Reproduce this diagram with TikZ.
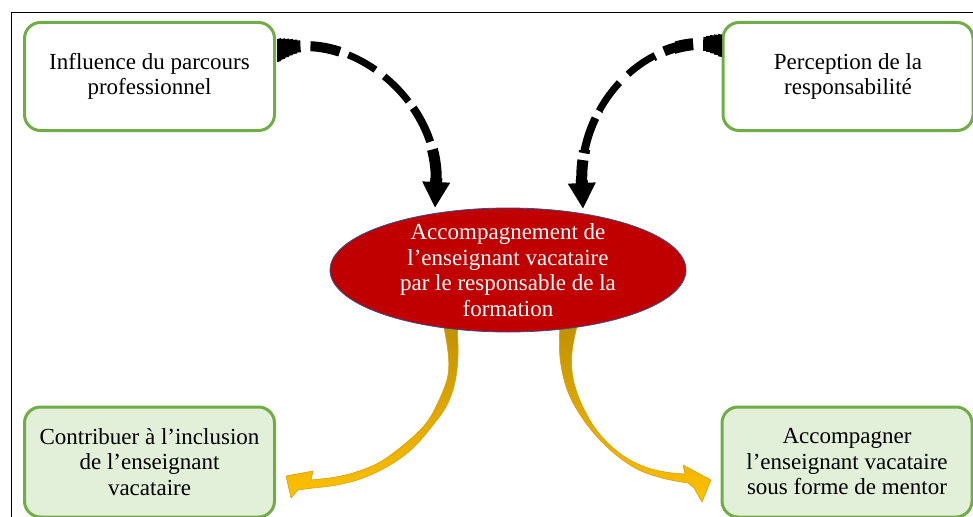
\documentclass[tikz,border=0pt]{standalone}
\usepackage{fontspec}
\setmainfont{Liberation Serif}
\usetikzlibrary{shapes.geometric,arrows.meta}
\definecolor{boxgreen}{RGB}{112,173,71}
\definecolor{boxfill}{RGB}{226,240,217}
\definecolor{ellred}{RGB}{192,0,0}
\definecolor{ellline}{RGB}{47,82,143}
\definecolor{golddark}{RGB}{191,144,0}
\definecolor{goldlight}{RGB}{255,192,0}
\definecolor{goldline}{RGB}{214,160,20}
\begin{document}
\begin{tikzpicture}[x=1pt,y=-1pt,
    boxtext/.style={align=center, font=\fontsize{23}{25.5}\selectfont},
    box/.style={boxtext, draw=boxgreen, line width=3pt, rounded corners=16pt, fill=white,
        minimum width=250pt, minimum height=108pt, inner sep=0pt},
    greenbox/.style={box, fill=boxfill, minimum height=110pt},
    blackdash/.style={-{Triangle[width=26pt,length=26pt]}},
    yellowarrow/.style={top color=golddark, bottom color=goldlight, draw=goldline, line width=.6pt}]
    \useasboundingbox (0,0) rectangle (973,516);
    \fill[white] (0,0) rectangle (973,516);
    \clip (0,0) rectangle (973,516);
    \draw[line width=1pt] (11,530) -- (11,13) -- (980,13);

    \node[box] (parcours) at (149.5,76.5) {Influence du parcours\\professionnel};
    \node[box] (perception) at (848,76.5) {Perception de la\\responsabilité};
    \node[greenbox] (inclusion) at (149.5,462) {Contribuer à l’inclusion\\de l’enseignant\\vacataire};
    \node[greenbox] (mentor) at (847,462) {Accompagner\\l’enseignant vacataire\\sous forme de mentor};

    % dashed arrows towards the ellipse, thick at the boxes, thin in the middle
    \coordinate (lstart) at (276,51);
    \coordinate (ltip) at (435,208);
    \coordinate (rstart) at (723,46);
    \coordinate (rtip) at (583,209);
    \foreach \xa/\ya/\xb/\yb/\w in {277/0/281/80/22, 281/0/285/80/20, 285/0/289/80/18, 289/0/293/80/16,
        293/0/297/80/14, 297/0/310/80/12, 310/0/345/80/10,
        345/0/470/105/7, 380/105/470/145/8, 380/145/470/178/11, 380/178/470/230/12}{
        \begin{scope}
            \clip (\xa,\ya) rectangle (\xb,\yb);
            \draw[blackdash, line width=\w pt,
                dash pattern=on 31pt off 10pt on 30pt off 9pt on 31pt off 11pt on 35pt off 8pt on 38pt off 8pt on 90pt]
                ([xshift=-6pt]lstart) -- (lstart) .. controls +(73,-25) and +(5,-107) .. (ltip);
        \end{scope}
    }
    \foreach \xa/\ya/\xb/\yb/\w in {718/0/722/80/22, 714/0/718/80/20, 710/0/714/80/18, 706/0/710/80/16,
        700/0/706/80/14, 675/0/700/80/12, 655/0/675/80/10,
        540/0/655/112/7, 540/112/615/150/8, 540/150/615/180/11, 540/180/615/230/12}{
        \begin{scope}
            \clip (\xa,\ya) rectangle (\xb,\yb);
            \draw[blackdash, line width=\w pt,
                dash pattern=on 26pt off 10pt on 30pt off 10pt on 33pt off 12pt on 35pt off 8pt on 37pt off 7pt on 90pt]
                ([xshift=6pt]rstart) -- (rstart) .. controls +(-73,-16) and +(-5,-107) .. (rtip);
        \end{scope}
    }

    % curved arrows out of the ellipse
    \shadedraw[yellowarrow] plot[smooth, tension=.6] coordinates {(457,322) (458,355) (455,382) (447,405)
            (433,425) (413,448) (390,465) (363,478) (337,485) (313,488)}
        -- (298,490) -- (291,498) -- (286,476) -- (313,471) -- (311,480)
        -- plot[smooth, tension=.6] coordinates {(330,478) (353,473) (380,462) (407,442) (427,422)
            (440,398) (448,375) (448,352) (443,322)} -- cycle;
    \shadedraw[yellowarrow] plot[smooth, tension=.6] coordinates {(560,322) (560,358) (568,392) (585,422)
            (608,448) (635,468) (662,478) (688,483)}
        -- (694,488) -- (702,502) -- (711,480) -- (683,465) -- (685,474)
        -- plot[smooth, tension=.6] coordinates {(672,473) (648,468) (622,455) (598,432) (582,405)
            (573,378) (572,352) (578,322)} -- cycle;

    \node[ellipse, fill=ellred, draw=ellline, line width=.8pt, minimum width=356pt,
        minimum height=124pt, inner sep=0pt] (accomp) at (508,270) {};
    \node[boxtext, text=white] (accomptext) at (accomp.center) {Accompagnement de\\l’enseignant vacataire\\par le responsable de la\\formation};
\end{tikzpicture}
\end{document}
